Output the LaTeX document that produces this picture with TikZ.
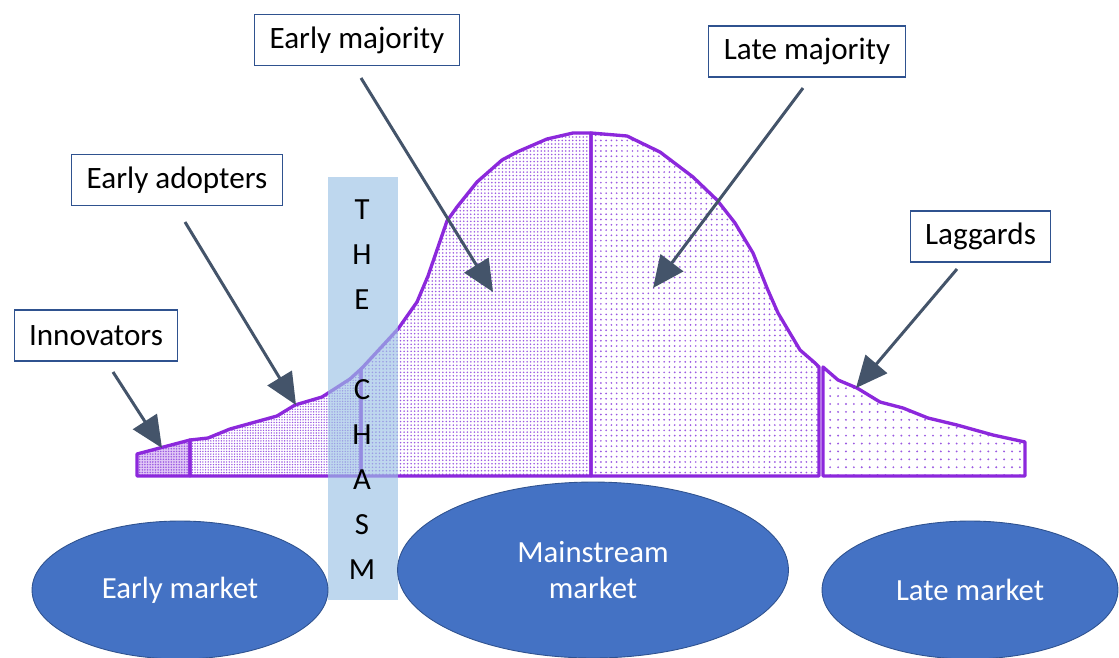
\documentclass[tikz,border=0pt]{standalone}
\usepackage{fontspec}
\setmainfont{Carlito}
\usetikzlibrary{arrows.meta,patterns.meta,shapes.geometric}
\definecolor{curvepurple}{RGB}{140,40,220}
\definecolor{dotpurple}{RGB}{155,90,225}
\definecolor{chasmblue}{RGB}{155,194,229}
\definecolor{boxblue}{RGB}{47,82,143}
\definecolor{pointergrey}{RGB}{68,84,106}
\definecolor{marketblue}{RGB}{68,114,196}
\tikzset{
  label box/.style={draw=boxblue, line width=0.6pt, fill=white, inner xsep=8.5pt,
    minimum height=1.02cm, font=\fontsize{17.7}{20}\selectfont},
  pointer/.style={draw=pointergrey, line width=1.7pt, -{Triangle[length=18pt,width=16pt]}},
  market/.style={ellipse, draw=boxblue, line width=0.5pt, fill=marketblue, text=white,
    inner sep=0pt, align=center, font=\fontsize{17.5}{21}\selectfont},
  segment/.style={draw=curvepurple, line width=1.9pt, line join=round, pattern color=dotpurple},
  chasm letter/.style={font=\fontsize{17.5}{20}\selectfont, inner sep=0pt},
}
\begin{document}
\begin{tikzpicture}[x=0.02cm, y=-0.02cm]
    \clip (0,0) rectangle (1119,657);
    % Les cinq parts de la courbe
    \draw[segment, preaction={fill=curvepurple!25}, pattern={Dots[distance=1.5pt,radius=0.5pt]}]
      (137,476) -- (137,454) -- (190,440) -- (190,476) -- cycle;
    \draw[segment, pattern={Dots[distance=1.5pt,radius=0.45pt]}]
      (190,476) -- (190,440) -- (208,438) -- (230,429) -- (277,416) -- (295,405) -- (322,397)
      -- (350,379) -- (361,369) -- (361,476) -- cycle;
    \draw[segment, pattern={Dots[distance=2pt,radius=0.5pt]}]
      (361,476) -- (361,369) -- (363,367) -- (398,329) -- (417,302) -- (428,276) -- (447,221)
      -- (457,207) -- (477,182) -- (502,160) -- (517,152) -- (547,139) -- (573,133)
      -- (591,133) -- (591,476) -- cycle;
    \draw[segment, pattern={Dots[distance=3pt,radius=0.55pt]}]
      (591,476) -- (591,133) -- (627,136) -- (660,152) -- (693,177) -- (717,200) -- (735,223)
      -- (753,253) -- (767,288) -- (778,313) -- (800,350) -- (815,363) -- (819,367)
      -- (819,476) -- cycle;
    \draw[segment, pattern={Dots[distance=4.5pt,radius=0.6pt]}]
      (823,476) -- (823,367) -- (838,380) -- (857,388) -- (880,402) -- (903,408) -- (928,418)
      -- (957,425) -- (993,435) -- (1025,442) -- (1025,476) -- cycle;
    % Le gouffre
    \node (chasm) [fill=chasmblue, fill opacity=0.65, minimum width=1.4cm, minimum height=8.46cm,
      inner sep=0pt] at (363,388.5) {};
    \foreach \l [count=\i] in {T,H,E}
      \node[chasm letter] (chasm-top-\i) at (362,165+45*\i) {\l};
    \foreach \l [count=\i] in {C,H,A,S,M}
      \node[chasm letter] (chasm-low-\i) at (362,345+45*\i) {\l};
    % Les marchés
    \node[market, minimum width=5.92cm, minimum height=2.76cm] (early-mkt) at (180,590) {Early market};
    \node[market, minimum width=7.82cm, minimum height=3.52cm] (main-mkt) at (593,570) {Mainstream\\market};
    \node[market, minimum width=5.92cm, minimum height=2.76cm] (late-mkt) at (970,590) {Late market};
    % Les étiquettes
    \node[label box] (innov) at (96,335.5) {Innovators};
    \node[label box] (earlyad) at (177,180) {Early adopters};
    \node[label box] (earlymaj) at (357,40) {Early majority};
    \node[label box] (latemaj) at (807,51.5) {Late majority};
    \node[label box] (lagg) at (980.5,236.5) {Laggards};
    % Flèches
    \coordinate (innov-tail) at (113,372);
    \coordinate (innov-tip) at (162,448);
    \coordinate (earlyad-tail) at (185,222);
    \coordinate (earlyad-tip) at (296,405);
    \coordinate (earlymaj-tail) at (361,78);
    \coordinate (earlymaj-tip) at (493,292);
    \coordinate (latemaj-tail) at (803,88);
    \coordinate (latemaj-tip) at (653,288);
    \coordinate (lagg-tail) at (957,269);
    \coordinate (lagg-tip) at (856,388);
    \foreach \n in {innov,earlyad,earlymaj,latemaj,lagg}
      \draw[pointer] (\n-tail) -- (\n-tip);
\end{tikzpicture}
\end{document}
